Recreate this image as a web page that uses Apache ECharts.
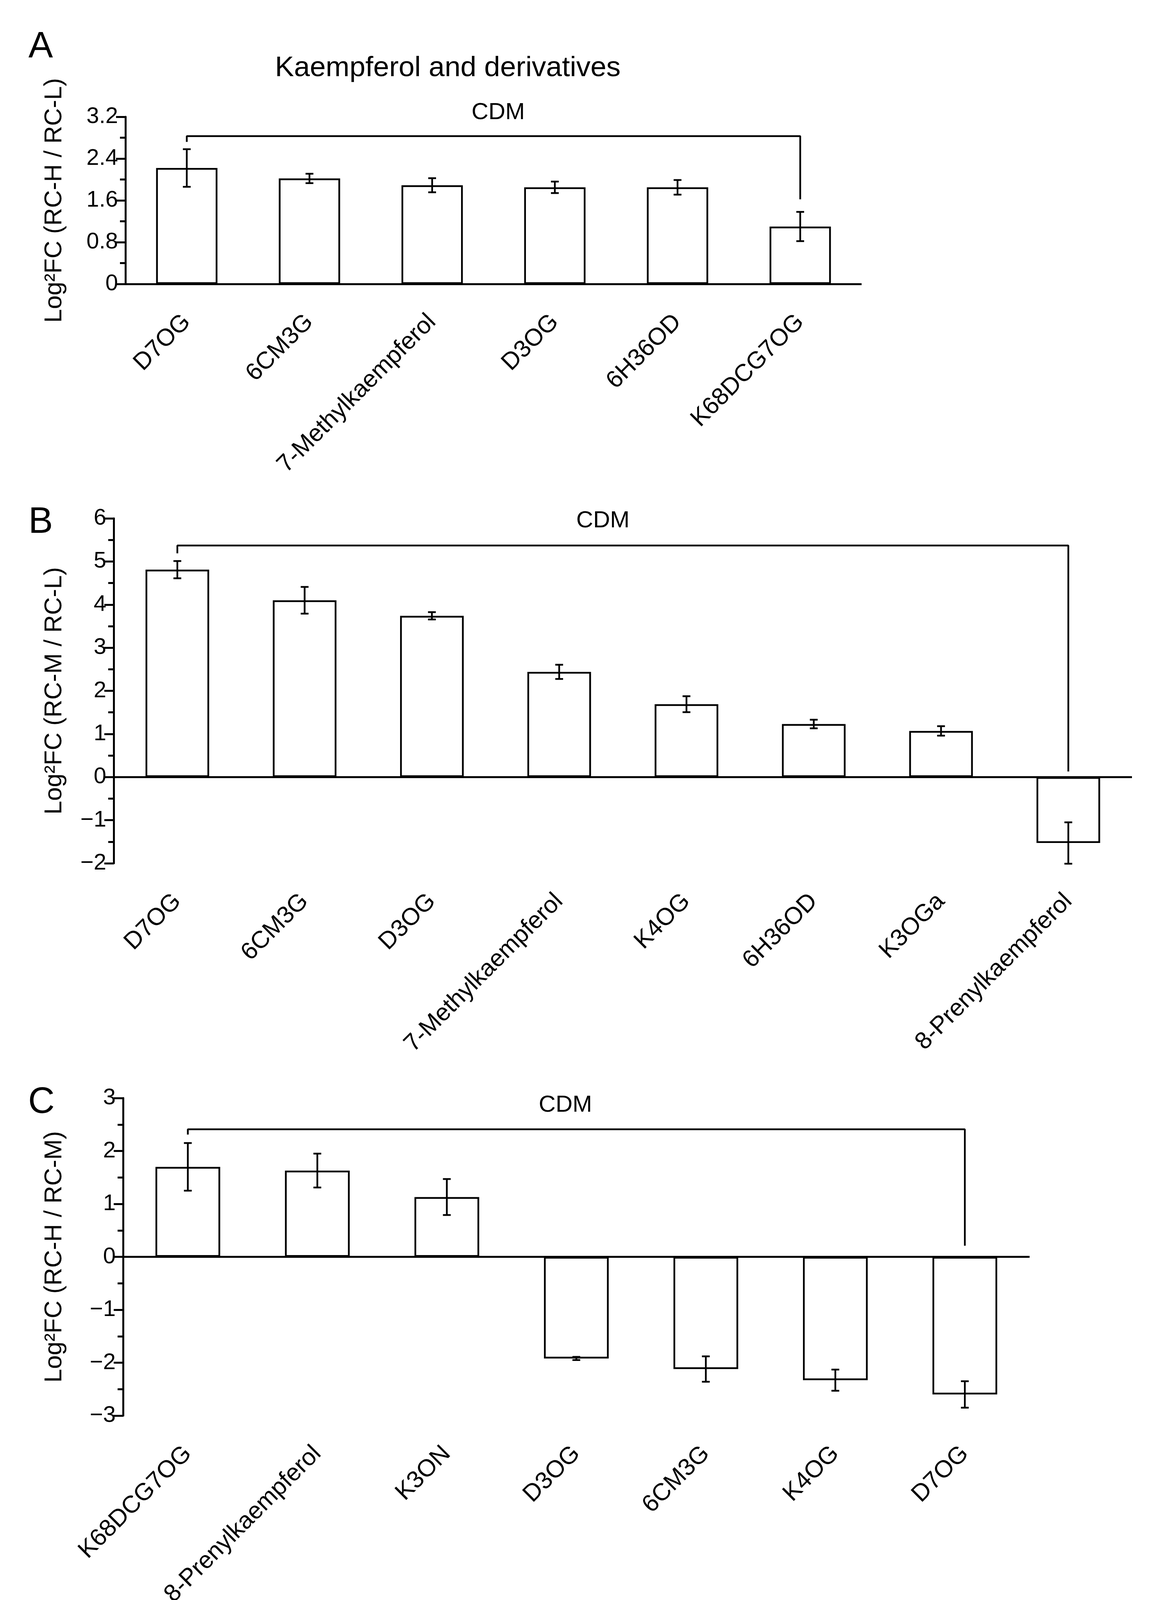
<!DOCTYPE html>
<html>
<head>
<meta charset="utf-8">
<title>Kaempferol and derivatives</title>
<script src="https://cdn.jsdelivr.net/npm/echarts@6.0.0/dist/echarts.min.js"></script>
<style>
  html, body { margin: 0; padding: 0; background: #fff; }
  #chart { width: 2979px; height: 4148px; }
</style>
</head>
<body>
<div id="chart"></div>
<script>
// panel A : RC-H / RC-L
var catsA = ['D7OG', '6CM3G', '7-Methylkaempferol', 'D3OG', '6H36OD', 'K68DCG7OG'];
var meanA = [2.22, 2.02, 1.89, 1.85, 1.85, 1.10];
var errA = [0.36, 0.09, 0.135, 0.11, 0.14, 0.28];
var bracketA = [2.72, 2.83, 1.62];   // left leg end, top, right leg end
var ticksA = { min: 0, max: 3.2, interval: 0.8 };

// panel B : RC-M / RC-L
var catsB = ['D7OG', '6CM3G', 'D3OG', '7-Methylkaempferol', 'K4OG', '6H36OD', 'K3OGa', '8-Prenylkaempferol'];
var meanB = [4.81, 4.10, 3.74, 2.44, 1.69, 1.23, 1.07, -1.53];
var errB = [0.20, 0.31, 0.085, 0.165, 0.185, 0.10, 0.11, 0.48];
var bracketB = [5.19, 5.37, 0.13];
var ticksB = { min: -2, max: 6, interval: 1 };

// panel C : RC-H / RC-M
var catsC = ['K68DCG7OG', '8-Prenylkaempferol', 'K3ON', 'D3OG', '6CM3G', 'K4OG', 'D7OG'];
var meanC = [1.70, 1.63, 1.13, -1.92, -2.12, -2.33, -2.60];
var errC = [0.45, 0.32, 0.34, 0.03, 0.24, 0.20, 0.25];
var bracketC = [2.31, 2.41, 0.21];
var ticksC = { min: -3, max: 3, interval: 1 };

var FONT = "'Liberation Sans', Arial, Helvetica, sans-serif";
var BLACK = '#000';

var panels = [
  { cats: catsA, mean: meanA, err: errA, bracket: bracketA, ticks: ticksA,
    name: 'Log\u00b2FC (RC-H / RC-L)', grid: { left: 321, top: 299, width: 1884, height: 428 }, nameGap: 150 },
  { cats: catsB, mean: meanB, err: errB, bracket: bracketB, ticks: ticksB,
    name: 'Log\u00b2FC (RC-M / RC-L)', grid: { left: 291, top: 1327, width: 2606, height: 883 }, nameGap: 120 },
  { cats: catsC, mean: meanC, err: errC, bracket: bracketC, ticks: ticksC,
    name: 'Log\u00b2FC (RC-H / RC-M)', grid: { left: 315, top: 2811, width: 2320, height: 813 }, nameGap: 144 }
];

// tick text, negative numbers with a real minus sign
function tickFmt(v) {
  var s = String(Number(Math.abs(v).toFixed(2)));
  return v < 0 ? '\u2212' + s : s;
}

// error bar drawing
function renderErr(params, api) {
  var x = api.value(0), m = api.value(1), e = api.value(2);
  var top = api.coord([x, m + e]);
  var bot = api.coord([x, m - e]);
  var w = 10;
  var st = { stroke: BLACK, lineWidth: 4.5 };
  return {
    type: 'group',
    children: [
      { type: 'line', shape: { x1: top[0], y1: top[1], x2: bot[0], y2: bot[1] }, style: st },
      { type: 'line', shape: { x1: top[0] - w, y1: top[1], x2: top[0] + w, y2: top[1] }, style: st },
      { type: 'line', shape: { x1: bot[0] - w, y1: bot[1], x2: bot[0] + w, y2: bot[1] }, style: st }
    ]
  };
}

var grids = [], xAxes = [], yAxes = [], series = [];

panels.forEach(function (p, i) {
  grids.push({
    left: p.grid.left, top: p.grid.top, width: p.grid.width, height: p.grid.height,
    containLabel: false, outerBoundsMode: 'none'
  });
  xAxes.push({
    gridIndex: i,
    type: 'category',
    data: p.cats,
    boundaryGap: true,
    axisLine: { show: false, onZero: false },
    axisTick: { show: false },
    splitLine: { show: false },
    axisLabel: {
      interval: 0, rotate: 45, margin: 88,
      fontSize: 62, fontFamily: FONT, color: BLACK
    }
  });
  yAxes.push({
    gridIndex: i,
    type: 'value',
    min: p.ticks.min, max: p.ticks.max, interval: p.ticks.interval,
    name: p.name,
    nameLocation: 'middle',
    nameGap: p.nameGap,
    nameTextStyle: { fontSize: 63, fontFamily: FONT, color: BLACK },
    axisLine: { show: true, lineStyle: { color: BLACK, width: 5 } },
    axisTick: { show: true, length: 24, lineStyle: { color: BLACK, width: 5 } },
    minorTick: { show: true, splitNumber: 2, length: 14, lineStyle: { color: BLACK, width: 5 } },
    splitLine: { show: false },
    axisLabel: { fontSize: 58, fontFamily: FONT, color: BLACK, margin: 19, formatter: tickFmt }
  });

  var errData = p.mean.map(function (m, k) { return [k, m, p.err[k]]; });
  var n = p.cats.length - 1;

  series.push({
    type: 'bar',
    xAxisIndex: i, yAxisIndex: i,
    data: p.mean,
    barWidth: '50%',
    itemStyle: { color: '#fff', borderColor: BLACK, borderWidth: 4.5 },
    markLine: {
      silent: true,
      symbol: ['none', 'none'],
      label: { show: false },
      lineStyle: { color: BLACK, width: 5, type: 'solid' },
      data: [{ yAxis: 0 }]
    },
    z: 2
  });
  series.push({
    type: 'custom',
    xAxisIndex: i, yAxisIndex: i,
    data: errData,
    renderItem: renderErr,
    z: 4
  });
  // CDM bracket
  series.push({
    type: 'line',
    xAxisIndex: i, yAxisIndex: i,
    data: [[0, p.bracket[0]], [0, p.bracket[1]], [n, p.bracket[1]], [n, p.bracket[2]]],
    symbol: 'none',
    lineStyle: { color: BLACK, width: 4.5 },
    z: 5
  });
});

function txt(s, x, y, size) {
  return {
    type: 'text', x: x, y: y, silent: true,
    style: { text: s, fontSize: size, fontFamily: FONT, fill: BLACK, align: 'center', verticalAlign: 'middle' }
  };
}

var chart = echarts.init(document.getElementById('chart'), null, { renderer: 'canvas' });
chart.setOption({
  backgroundColor: '#fff',
  animation: false,
  grid: grids,
  xAxis: xAxes,
  yAxis: yAxes,
  series: series,
  graphic: [
    txt('A', 104, 121, 94),
    txt('Kaempferol and derivatives', 1146, 175, 73),
    txt('CDM', 1275, 288, 60),
    txt('B', 104, 1338, 94),
    txt('CDM', 1543, 1333, 60),
    txt('C', 106, 2823, 94),
    txt('CDM', 1447, 2829, 60)
  ]
});
</script>
</body>
</html>
